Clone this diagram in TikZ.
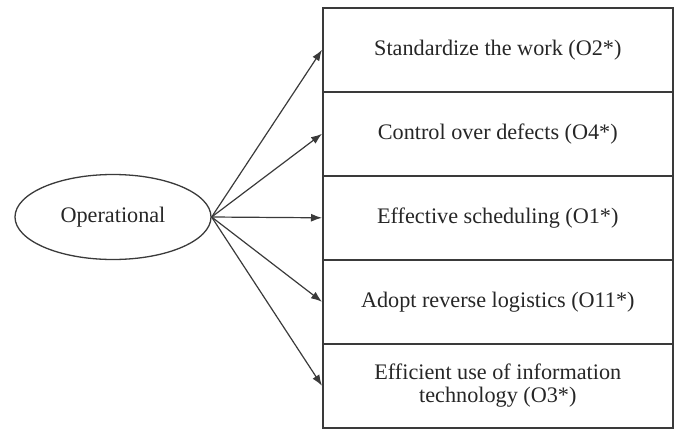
\documentclass[tikz,border=0pt]{standalone}
\usepackage{fontspec}
\setmainfont{Liberation Serif}
\usetikzlibrary{arrows.meta,shapes.geometric}
\definecolor{lc}{HTML}{3A3A3A}
\tikzset{
  rowbox/.style={draw=lc, line width=1.6pt, minimum width=350pt, minimum height=84pt, inner sep=0pt, align=center, anchor=north west, font=\fontsize{22.2}{23.5}\selectfont, text=black!85},
  oval/.style={ellipse, draw=lc, line width=1.3pt, minimum width=196pt, minimum height=85pt, inner sep=0pt, font=\fontsize{22.2}{23.5}\selectfont, text=black!85},
  arr/.style={draw=lc, line width=1.2pt, -{Latex[length=11pt,width=8pt]}}
}
\begin{document}
\begin{tikzpicture}[x=1pt,y=-1pt]
\useasboundingbox (0,0) rectangle (678,429);
\node[oval] (op) at (113,217) {Operational};
\node[rowbox] (b1) at (322,7) {Standardize the work (O2*)};
\node[rowbox] (b2) at (322,91) {Control over defects (O4*)};
\node[rowbox] (b3) at (322,175) {Effective scheduling (O1*)};
\node[rowbox] (b4) at (322,259) {Adopt reverse logistics (O11*)};
\node[rowbox] (b5) at (322,343) {Efficient use of information\\technology (O3*)};
\foreach \b in {b1,b2,b3,b4,b5}
  \draw[arr] (op.east) -- (\b.west);
\end{tikzpicture}
\end{document}
